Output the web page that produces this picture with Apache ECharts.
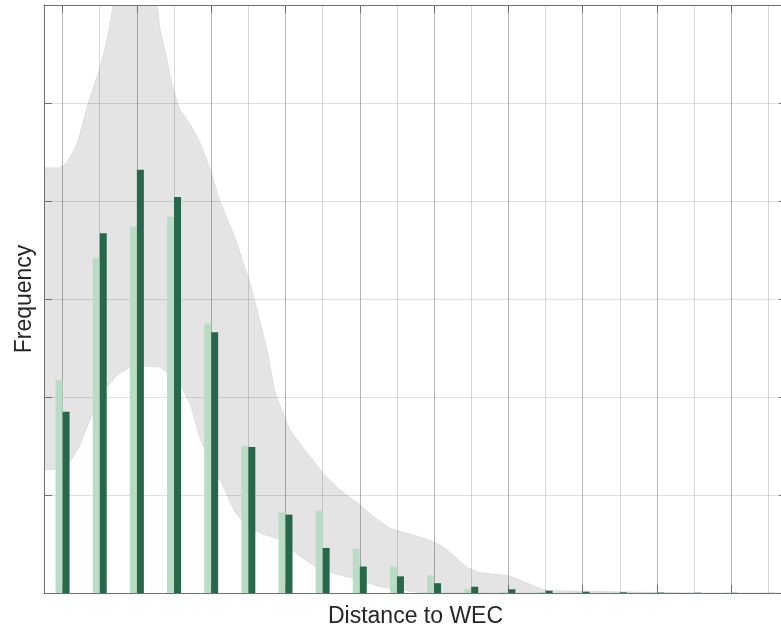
<!DOCTYPE html>
<html><head><meta charset="utf-8">
<script src="https://cdn.jsdelivr.net/npm/echarts@6/dist/echarts.min.js"></script>
<style>html,body{margin:0;padding:0;background:#fff}#c{width:781px;height:630px}</style>
</head><body><div id="c"></div>
<script>
// ---- data ----
const categories = ['1','2','3','4','5','6','7','8','9','10','11','12','13','14','15','16','17','18','19','20'];
const lightValues = [2.17, 3.42, 3.74, 3.84, 2.75, 1.50, 0.82, 0.84, 0.45, 0.27, 0.18, 0.04, 0.012, 0.01, 0.008, 0.006, 0.005, 0.004, 0.003, 0.002];
const darkValues  = [1.85, 3.67, 4.32, 4.04, 2.66, 1.49, 0.80, 0.46, 0.27, 0.17, 0.10, 0.064, 0.038, 0.023, 0.013, 0.007, 0.004, 0.003, 0.002, 0.001];
const yMin = 0, yMax = 6, yStep = 1;
// uncertainty band (x in category-index units, y in frequency units)
const bandUpperX = [-0.7, -0.5, -0.12, 0.01, 0.12, 0.39, 0.69, 1.01, 1.23, 1.36, 1.60, 1.95, 2.30, 2.55, 2.63, 2.82, 2.98, 3.17, 3.44, 3.71, 3.98, 4.24, 4.60, 5.05, 5.51, 5.73, 5.94, 6.13, 6.59, 7.02, 7.48, 7.94, 8.37, 8.83, 9.28, 9.72, 10.17, 10.44, 10.90, 11.25, 11.98, 12.52, 13.00, 13.95, 15.57, 17.18, 19.7];
const bandUpperY = [4.34, 4.34, 4.34, 4.36, 4.39, 4.59, 5.00, 5.37, 5.71, 6.00, 6.31, 6.46, 6.31, 6.00, 5.75, 5.44, 5.15, 4.93, 4.78, 4.59, 4.32, 4.00, 3.67, 3.16, 2.48, 2.04, 1.84, 1.66, 1.43, 1.22, 1.05, 0.92, 0.78, 0.66, 0.61, 0.56, 0.49, 0.41, 0.26, 0.21, 0.18, 0.10, 0.03, 0.02, 0.01, 0, 0];
const bandLowerX = [-0.7, -0.5, -0.20, -0.02, 0.20, 0.47, 0.82, 1.14, 1.47, 1.82, 2.22, 2.63, 2.90, 3.17, 3.44, 3.71, 3.98, 4.24, 4.65, 5.05, 5.32, 5.86, 6.40, 6.94, 7.48, 8.02, 8.56, 9.10, 9.64, 19.7];
const bandLowerY = [1.26, 1.26, 1.26, 1.29, 1.34, 1.51, 1.84, 2.07, 2.22, 2.30, 2.31, 2.30, 2.22, 2.12, 1.92, 1.56, 1.34, 1.15, 0.82, 0.66, 0.61, 0.54, 0.37, 0.24, 0.18, 0.13, 0.06, 0.03, 0, 0];
// gridline slots: half-category steps across the plot (0..40)
const gridSlots = ['0','1','2','3','4','5','6','7','8','9','10','11','12','13','14','15','16','17','18','19','20','21','22','23','24','25','26','27','28','29','30','31','32','33','34','35','36','37','38','39','40'];

const FONT = '"Liberation Sans", Arial, sans-serif';
const axisColor = '#707070';
const majorSel = (i) => i % 4 === 1;
const minorSel = (i) => i % 4 === 3;

const chart = echarts.init(document.getElementById('c'), null, {renderer: 'canvas'});
chart.setOption({
  backgroundColor: '#fff',
  animation: false,
  grid: {left: 44, top: 5, width: 743, height: 588, outerBoundsMode: 'none', containLabel: false},
  xAxis: [
    {type: 'category', data: categories, show: false, boundaryGap: true},
    {type: 'value', min: -0.5, max: 19.5, show: false},
    {type: 'category', data: gridSlots, boundaryGap: false, position: 'bottom',
     axisLine: {show: true, onZero: false, lineStyle: {color: axisColor, width: 1}},
     axisTick: {show: true, inside: true, length: 8, interval: majorSel, lineStyle: {color: axisColor}},
     axisLabel: {show: false},
     splitLine: {show: true, interval: majorSel, lineStyle: {color: 'rgba(38,38,38,0.34)', width: 1}},
     name: 'Distance to WEC', nameLocation: 'middle', nameGap: 12,
     nameTextStyle: {fontFamily: FONT, fontSize: 23, color: '#262626'}},
    {type: 'category', data: gridSlots, boundaryGap: false, position: 'bottom',
     axisLine: {show: false, onZero: false}, axisTick: {show: false}, axisLabel: {show: false},
     splitLine: {show: true, interval: minorSel, lineStyle: {color: 'rgba(38,38,38,0.18)', width: 1}}},
    {type: 'category', data: gridSlots, boundaryGap: false, position: 'top',
     axisLine: {show: true, onZero: false, lineStyle: {color: axisColor, width: 1}},
     axisTick: {show: true, inside: true, length: 8, interval: majorSel, lineStyle: {color: axisColor}},
     axisLabel: {show: false}, splitLine: {show: false}}
  ],
  yAxis: [
    {type: 'value', min: yMin, max: yMax, interval: yStep, position: 'left',
     axisLine: {show: true, onZero: false, lineStyle: {color: axisColor, width: 1}},
     axisTick: {show: true, inside: true, length: 8, lineStyle: {color: axisColor}},
     axisLabel: {show: false},
     splitLine: {show: true, lineStyle: {color: 'rgba(38,38,38,0.14)', width: 1}},
     name: 'Frequency', nameLocation: 'middle', nameGap: 8,
     nameTextStyle: {fontFamily: FONT, fontSize: 23, color: '#262626'}},
    {type: 'value', min: yMin, max: yMax, interval: yStep, position: 'right',
     axisLine: {show: true, onZero: false, lineStyle: {color: axisColor, width: 1}},
     axisTick: {show: true, inside: true, length: 8, lineStyle: {color: axisColor}},
     axisLabel: {show: false}, splitLine: {show: false}}
  ],
  series: [
    {type: 'custom', name: 'band', xAxisIndex: 1, yAxisIndex: 0, z: -1, silent: true, clip: true,
     data: [[0, 0]],
     renderItem: function (params, api) {
       const pts = [];
       for (let i = 0; i < bandUpperX.length; i++) pts.push(api.coord([bandUpperX[i], bandUpperY[i]]));
       for (let i = bandLowerX.length - 1; i >= 0; i--) pts.push(api.coord([bandLowerX[i], bandLowerY[i]]));
       return {type: 'polygon', shape: {points: pts, smooth: 0.12},
               style: {fill: '#e4e4e4', stroke: 'rgba(0,0,0,0.06)', lineWidth: 1}};
     }},
    {type: 'bar', name: 'light', xAxisIndex: 0, yAxisIndex: 0, data: lightValues,
     barWidth: 7, barGap: '0%', itemStyle: {color: '#badcc4'}},
    {type: 'bar', name: 'dark', xAxisIndex: 0, yAxisIndex: 0, data: darkValues,
     barWidth: 7, barGap: '0%', itemStyle: {color: '#27684a'}}
  ]
});
</script></body></html>
